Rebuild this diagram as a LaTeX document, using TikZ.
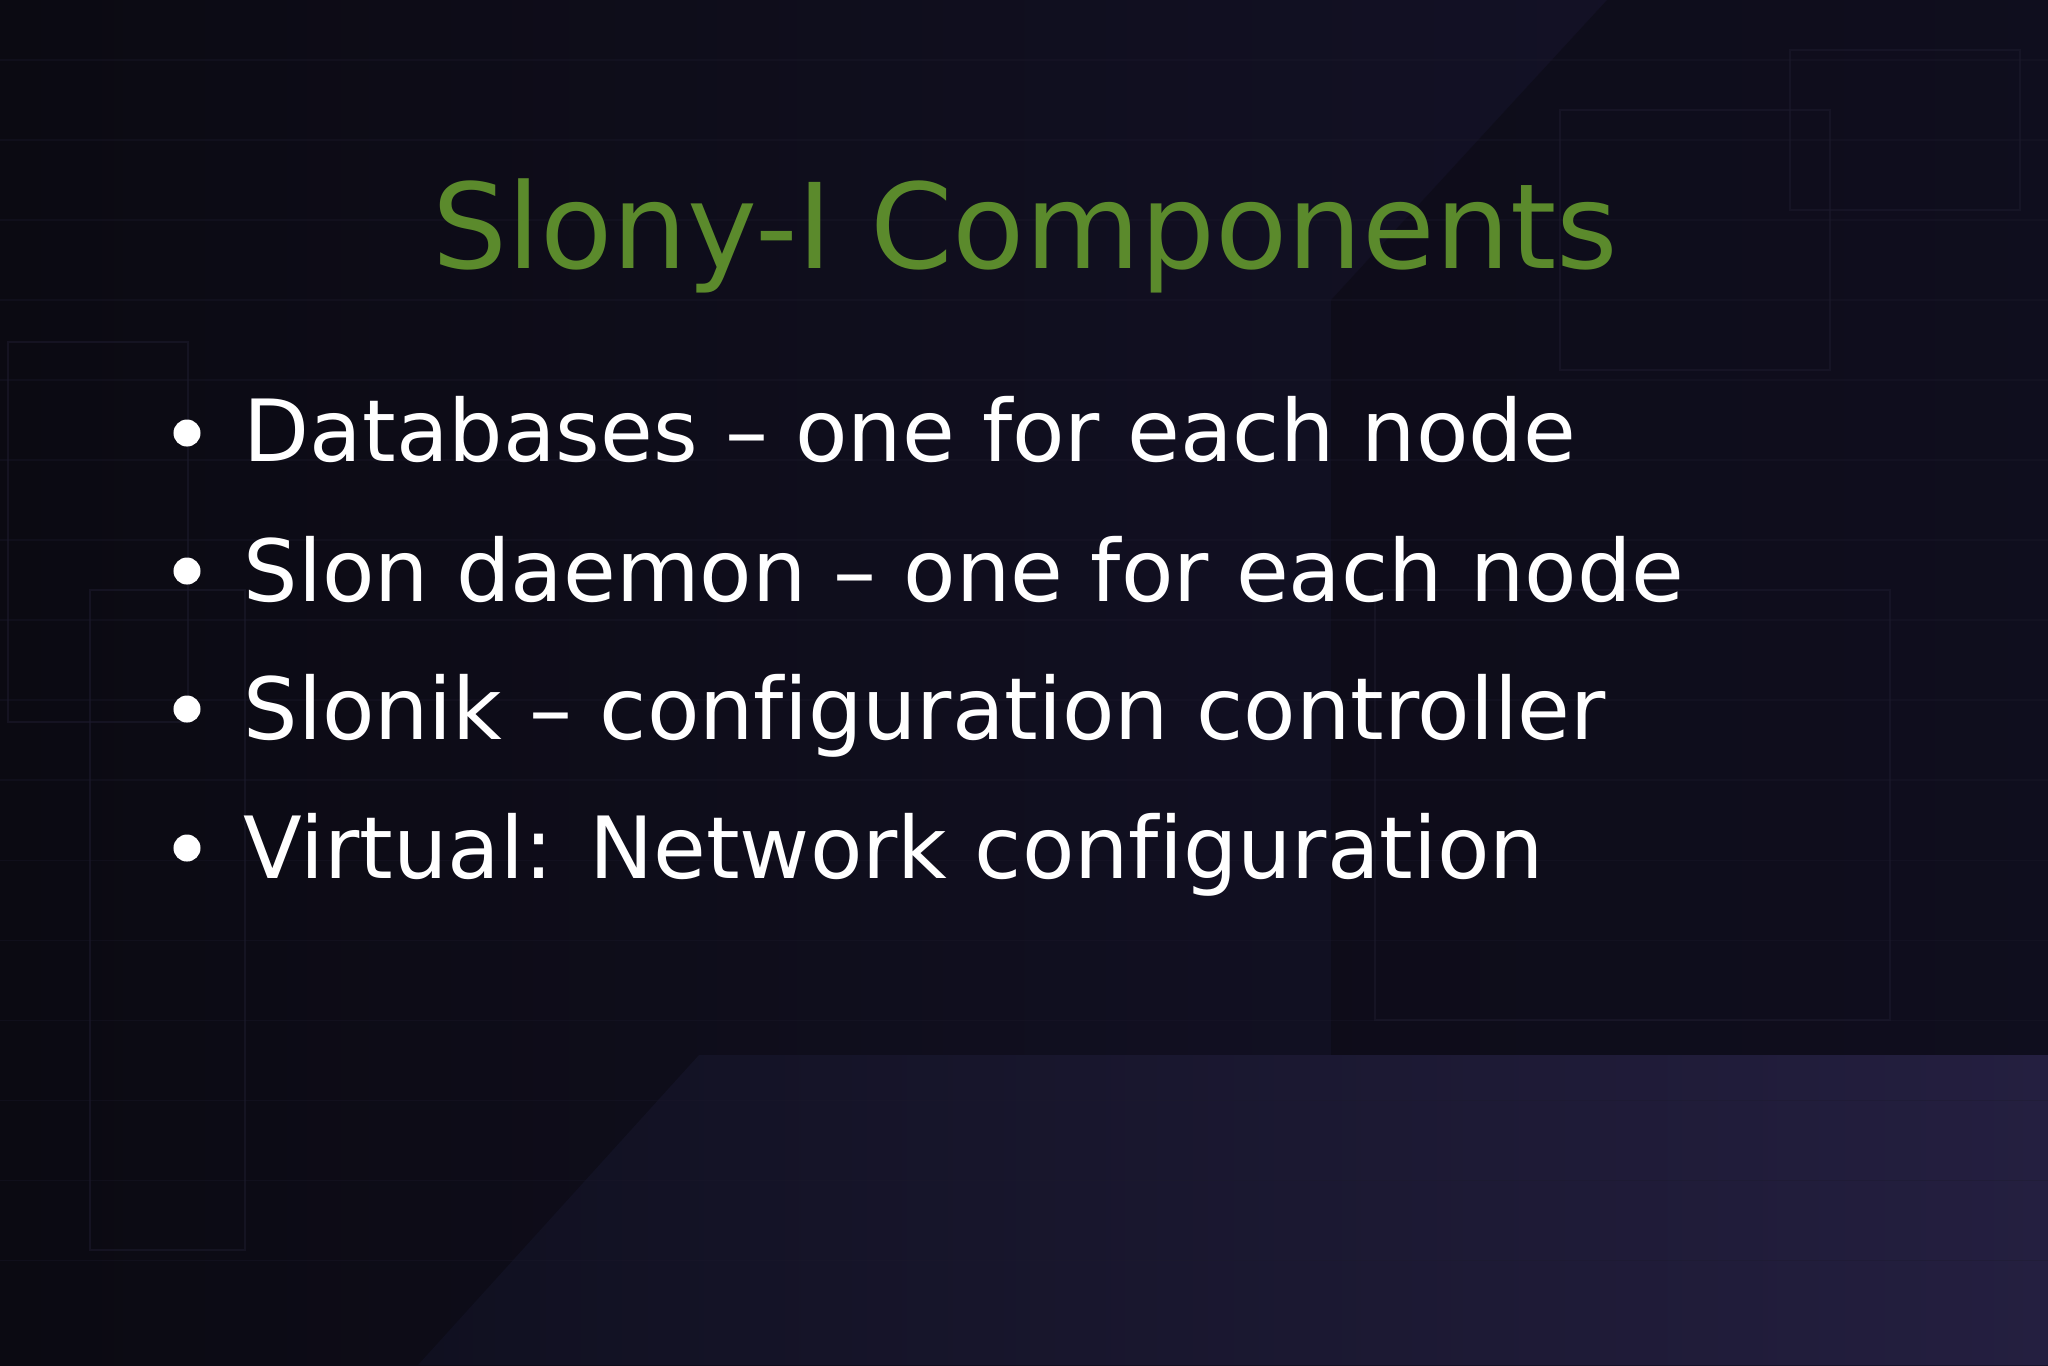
\documentclass[tikz,border=0pt]{standalone}
\usepackage{fontspec}
\setmainfont[Ligatures=NoCommon]{DejaVu Sans}
\definecolor{bgA}{HTML}{0B0A12}
\definecolor{bgB}{HTML}{15132B}
\definecolor{panA}{HTML}{101020}
\definecolor{panB}{HTML}{241F40}
\definecolor{titlegreen}{HTML}{5B8A2C}
\definecolor{gridc}{HTML}{1C1A2C}
\tikzset{
  bullettext/.style={anchor=base west,text=white,font=\fontsize{24.4}{30}\selectfont,inner sep=0pt},
  bulletdot/.style={circle,fill=white,minimum size=0.27cm,inner sep=0pt}
}
\begin{document}
\begin{tikzpicture}[x=0.01cm,y=-0.01cm]
\useasboundingbox (0,0) rectangle (2048,1365);
\shade[left color=bgA,right color=bgB] (0,0) rectangle (2048,1365);
\fill[bgA,opacity=0.5] (1607,0) -- (2048,0) -- (2048,1055) -- (1331,1055) -- (1331,300) -- cycle;
\shade[left color=panA,right color=panB] (699,1055) -- (2048,1055) -- (2048,1365) -- (418,1365) -- cycle;
\foreach \y in {60,140,220,300,380,460,540,620,700,780,860,940,1020,1100,1180,1260}
  \draw[gridc,opacity=0.35,line width=0.3pt] (0,\y) -- (2048,\y);
\draw[gridc,opacity=0.6,line width=0.4pt] (8,342) rectangle (188,722);
\draw[gridc,opacity=0.6,line width=0.4pt] (90,590) rectangle (245,1250);
\draw[gridc,opacity=0.6,line width=0.4pt] (1560,110) rectangle (1830,370);
\draw[gridc,opacity=0.6,line width=0.4pt] (1375,590) rectangle (1890,1020);
\draw[gridc,opacity=0.6,line width=0.4pt] (1790,50) rectangle (2020,210);
\node[anchor=base,text=titlegreen,font=\fontsize{33.6}{40}\selectfont,inner sep=0pt] (title) at (1025,268) {Slony-I Components};
\node[bulletdot] (b1) at (187,433) {};
\node[bullettext] (t1) at (243,461) {Databases – one for each node};
\node[bulletdot] (b2) at (187,571) {};
\node[bullettext] (t2) at (243,601) {Slon daemon – one for each node};
\node[bulletdot] (b3) at (187,709) {};
\node[bullettext] (t3) at (243,739) {Slonik – configuration controller};
\node[bulletdot] (b4) at (187,848) {};
\node[bullettext] (t4) at (243,878) {Virtual: Network configuration};
\end{tikzpicture}
\end{document}
